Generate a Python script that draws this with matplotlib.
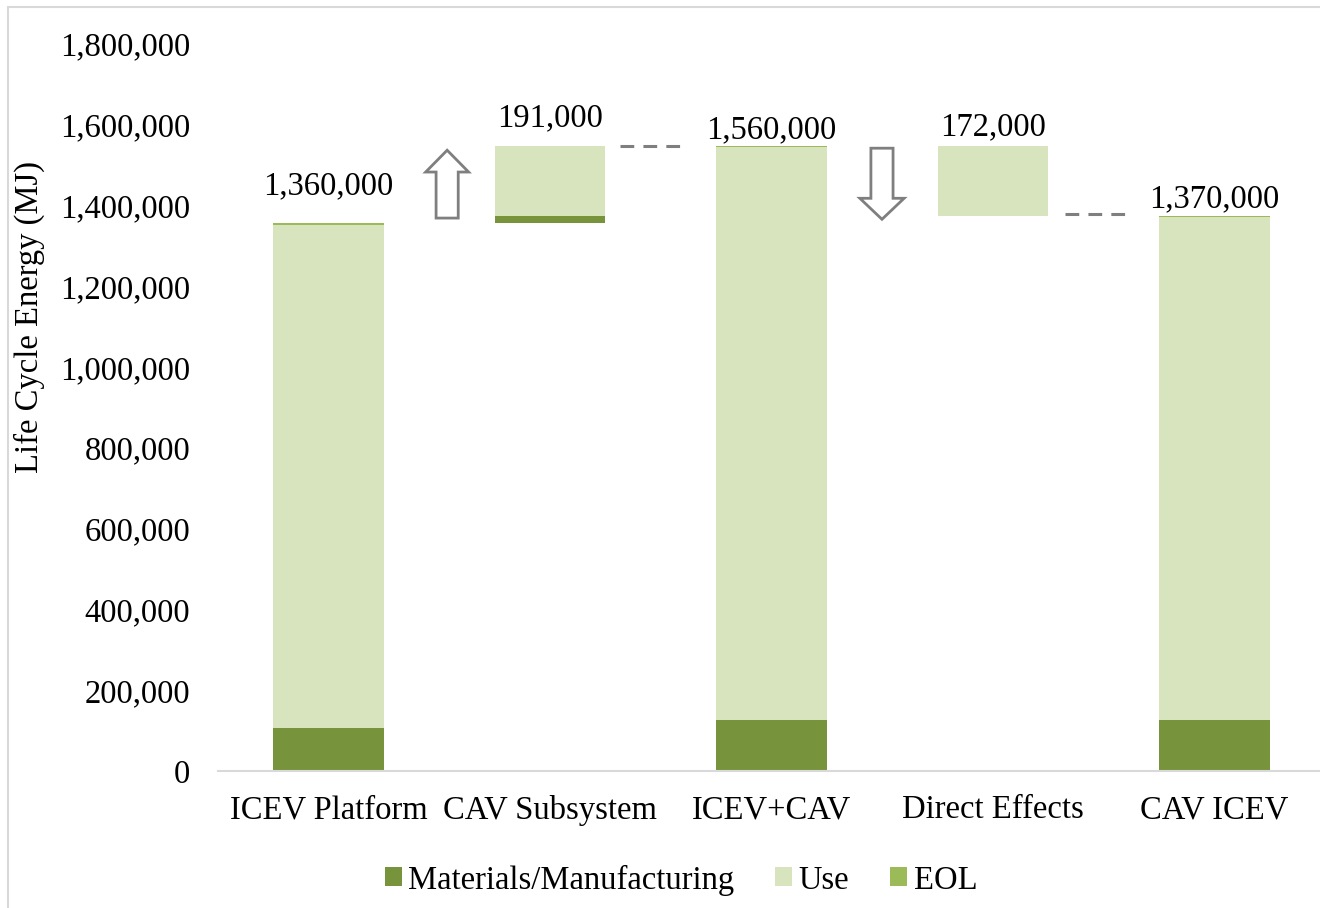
import matplotlib.pyplot as plt
import matplotlib.patches as mpatches
from matplotlib.ticker import FuncFormatter

# values (MJ)
categories = ["ICEV Platform", "CAV Subsystem", "ICEV+CAV", "Direct Effects", "CAV ICEV"]
materials = [106000, 19000, 126000, 0, 126000]
use = [1247000, 172000, 1418000, 172000, 1246000]
eol = [3000, 0, 3000, 0, 3000]
bases = [0, 1356000, 0, 1375000, 0]   # floating bars start here
total_labels = ["1,360,000", "191,000", "1,560,000", "172,000", "1,370,000"]

c_mat = "#77933C"
c_use = "#D7E4BD"
c_eol = "#9BBB59"
gray = "#7F7F7F"
fs = 23.5

plt.rcParams["font.family"] = ["Liberation Serif", "DejaVu Serif"]

fig = plt.figure(figsize=(13.2, 9.08), dpi=100)
ax = fig.add_axes([218 / 1320, (908 - 771) / 908, 1107 / 1320, (771 - 44) / 908])

x = list(range(len(categories)))
w = 0.5
bot_use = [b + m for b, m in zip(bases, materials)]
bot_eol = [b + m + u for b, m, u in zip(bases, materials, use)]
ax.bar(x, materials, w, bottom=bases, color=c_mat, label="Materials/Manufacturing")
ax.bar(x, use, w, bottom=bot_use, color=c_use, label="Use")
ax.bar(x, eol, w, bottom=bot_eol, color=c_eol, label="EOL")

# data labels above each bar
tops = [b + m + u + e for b, m, u, e in zip(bases, materials, use, eol)]
offsets = [16, 9, 1, 3, 1]
for xi, t, lab, off in zip(x, tops, total_labels, offsets):
    ax.annotate(lab, (xi, t), xytext=(0, off), textcoords="offset points",
                ha="center", va="bottom", fontsize=fs)

# dashed connectors
ax.plot([1.316, 1.623], [tops[1], tops[1]], ls=(0, (4.5, 3)), color=gray, lw=2.2)
ax.plot([3.325, 3.614], [bases[3] + 5000, bases[3] + 5000], ls=(0, (4.5, 3)), color=gray, lw=2.2)

# hollow arrows
ax.add_patch(mpatches.FancyArrow(0.535, 1369000, 0, 168000, width=0.1, head_width=0.194,
                                 head_length=54000, length_includes_head=True,
                                 fc="white", ec=gray, lw=2))
ax.add_patch(mpatches.FancyArrow(2.499, 1542000, 0, -176000, width=0.1, head_width=0.2,
                                 head_length=52000, length_includes_head=True,
                                 fc="white", ec=gray, lw=2))

ax.set_xlim(-0.5, 4.5)
ax.set_ylim(0, 1800000)
ax.set_yticks(range(0, 1800001, 200000))
ax.yaxis.set_major_formatter(FuncFormatter(lambda v, p: f"{int(v):,}"))
ax.set_xticks(x)
ax.set_xticklabels(categories)
ax.tick_params(axis="both", length=0, labelsize=fs)
ax.tick_params(axis="y", pad=20)
ax.tick_params(axis="x", pad=17)
for s in ["top", "right", "left"]:
    ax.spines[s].set_visible(False)
ax.spines["bottom"].set_color("#D9D9D9")
ax.spines["bottom"].set_linewidth(1.5)
ax.set_ylabel("Life Cycle Energy (MJ)", fontsize=fs)
ax.yaxis.set_label_coords(-173 / 1107, (771 - 317) / 727)

fig.legend(loc="center", bbox_to_anchor=(681 / 1320, (908 - 880) / 908), ncol=3,
           frameon=False, fontsize=fs, handlelength=0.52, handleheight=0.52,
           handletextpad=0.2, columnspacing=1.25)

fig.patches.append(mpatches.Rectangle((8 / 1320, -1), 2, 1 + (908 - 7) / 908,
                                      transform=fig.transFigure, fill=False,
                                      ec="#D9D9D9", lw=1.5))

fig.savefig("out.png", dpi=100)
